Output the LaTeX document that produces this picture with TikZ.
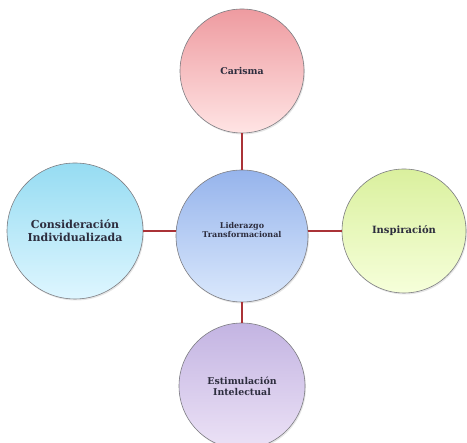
\documentclass[tikz,border=0pt]{standalone}
\usepackage{fontspec}
\setmainfont{DejaVu Serif}
\usetikzlibrary{shadows}
\definecolor{txt}{RGB}{45,45,62}
\definecolor{lnk}{RGB}{170,50,55}
\definecolor{rim}{RGB}{125,125,130}
\newcommand{\fsz}[1]{\bfseries\fontsize{#1}{1.15\dimexpr#1pt\relax}\selectfont}
\begin{document}
\begin{tikzpicture}[x=1pt,y=1pt,
  bubble/.style={circle, draw=rim, line width=0.6pt, minimum size=#1, inner sep=0pt,
    align=center, text=txt,
    drop shadow={opacity=0.2, shadow xshift=1pt, shadow yshift=-1.5pt}},
  link/.style={draw=lnk, line width=2.4pt}]
\useasboundingbox (0,0) rectangle (467,443);
\node[bubble=124pt, font=\fsz{9.4}, top color={rgb,255:red,238;green,155;blue,160}, bottom color={rgb,255:red,255;green,228;blue,228}] (car) at (242,372) {Carisma};
\node[bubble=132pt, top color={rgb,255:red,150;green,180;blue,236}, bottom color={rgb,255:red,218;green,232;blue,252},
  label={[name=lidtxt, yshift=6pt, align=center, text=txt, font=\fsz{8}]center:Liderazgo\\Transformacional}] (lid) at (242,207) {};
\node[bubble=136pt, font=\fsz{11}, top color={rgb,255:red,150;green,220;blue,242}, bottom color={rgb,255:red,222;green,246;blue,255}] (con) at (75,212) {Consideración\\Individualizada};
\node[bubble=124pt, font=\fsz{10}, top color={rgb,255:red,218;green,240;blue,158}, bottom color={rgb,255:red,246;green,255;blue,218}] (ins) at (404,212) {Inspiración};
\node[bubble=126pt, font=\fsz{9.4}, top color={rgb,255:red,195;green,180;blue,226}, bottom color={rgb,255:red,236;green,226;blue,246}] (est) at (242,57) {Estimulación\\Intelectual};

\path[link] (car.south) -- (lid.north);
\path[link] (lid.south) -- (est.north);
\path[link] (con.east) -- (con.east -| lid.west);
\path[link] (ins.west) -- (ins.west -| lid.east);
\end{tikzpicture}
\end{document}
